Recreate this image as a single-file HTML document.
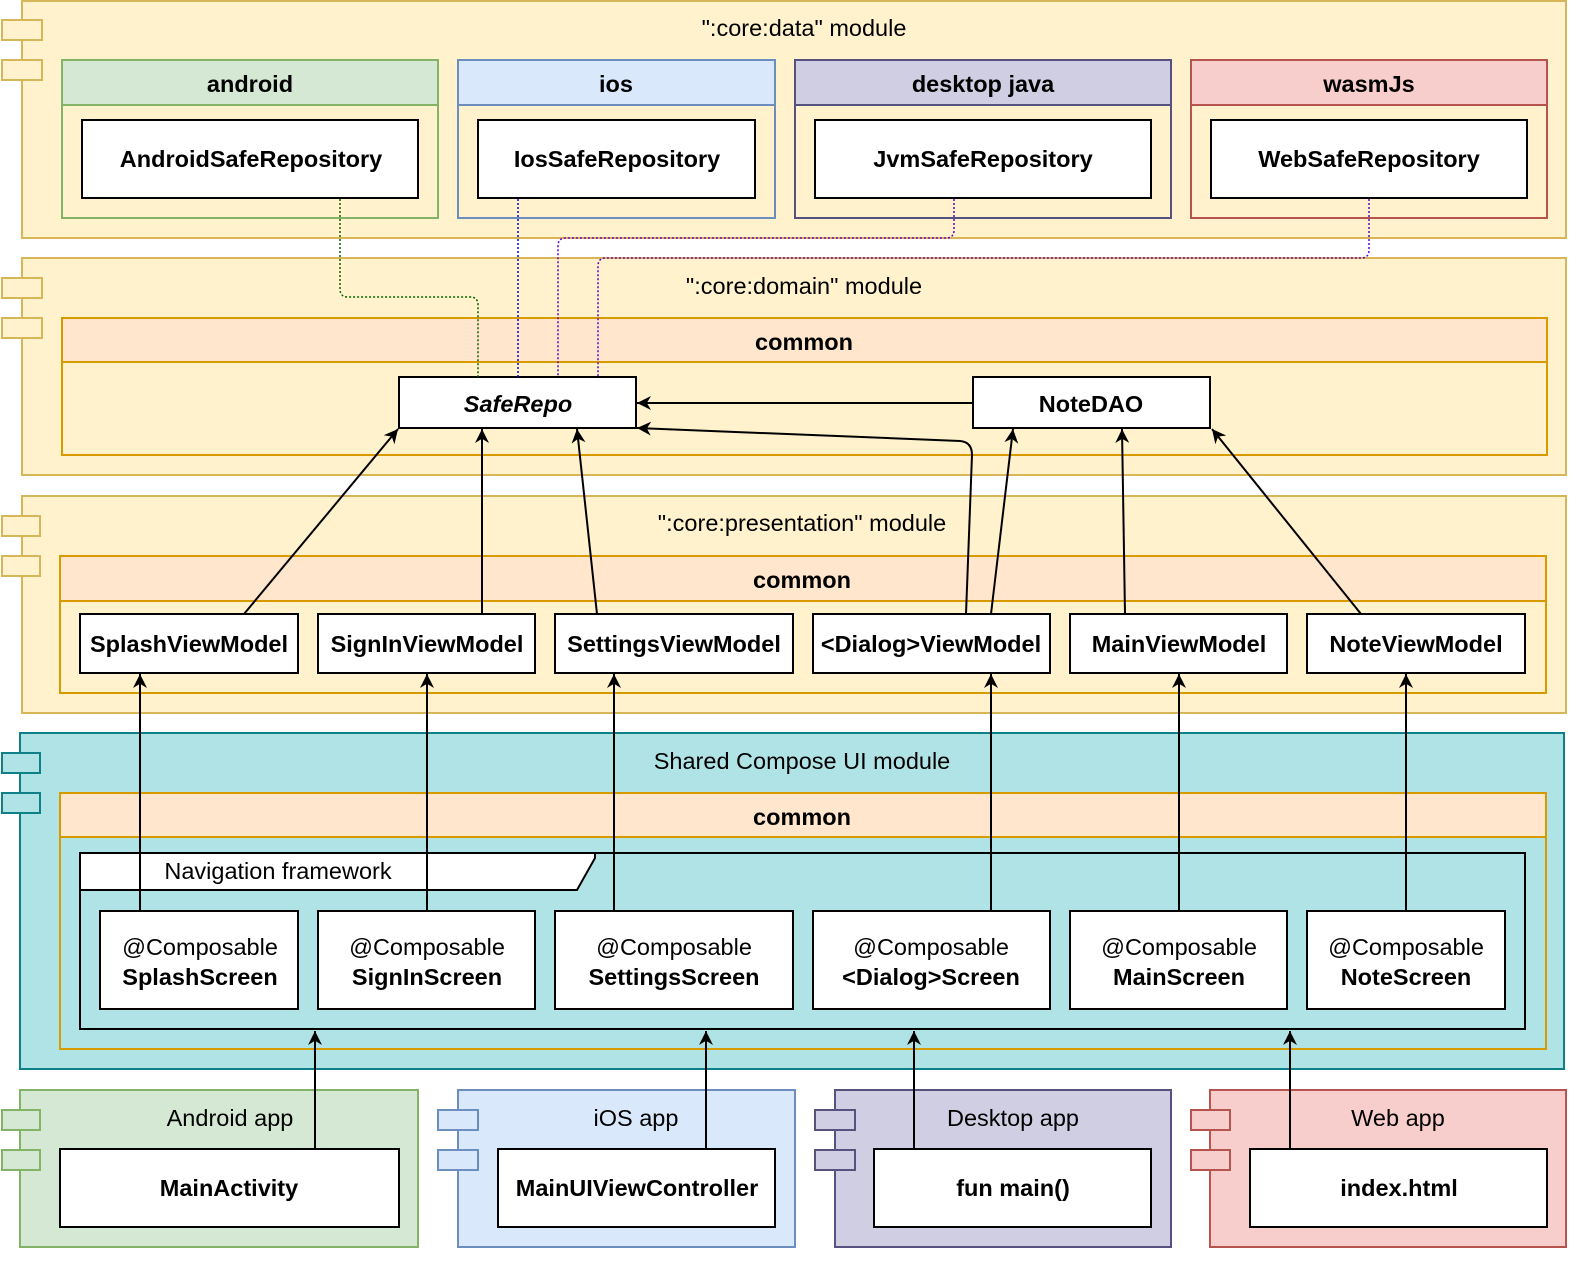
<!DOCTYPE html>
<html><head><meta charset="utf-8"><style>
html,body{margin:0;padding:0;background:#fff}
svg{display:block}
text{font-family:"Liberation Sans",Arial,sans-serif;font-size:23.5px;fill:#000}
.b{font-weight:bold}
</style></head><body>
<svg width="1584" height="1262" viewBox="0 0 1584 1262" xmlns="http://www.w3.org/2000/svg">
<defs>
<marker id="a2" viewBox="0 0 10 10" refX="10" refY="5" markerWidth="22" markerHeight="14" markerUnits="userSpaceOnUse" orient="auto">
<path d="M0,0 L10,5 L0,10 L3,5 z" fill="#000"/></marker>
</defs>
<g stroke-width="2">
<rect x="22" y="1" width="1544" height="237" fill="#fff2cc" stroke="#d6b656"/>
<rect x="2" y="20" width="40" height="20" fill="#fff2cc" stroke="#d6b656"/>
<rect x="2" y="60" width="40" height="20" fill="#fff2cc" stroke="#d6b656"/>
<rect x="62" y="60" width="376" height="158" fill="#fff2cc" stroke="#82b366"/>
<rect x="62" y="60" width="376" height="45" fill="#d5e8d4" stroke="#82b366"/>
<rect x="458" y="60" width="317" height="158" fill="#fff2cc" stroke="#6c8ebf"/>
<rect x="458" y="60" width="317" height="45" fill="#dae8fc" stroke="#6c8ebf"/>
<rect x="795" y="60" width="376" height="158" fill="#fff2cc" stroke="#56517e"/>
<rect x="795" y="60" width="376" height="45" fill="#d0cee2" stroke="#56517e"/>
<rect x="1191" y="60" width="356" height="158" fill="#fff2cc" stroke="#b85450"/>
<rect x="1191" y="60" width="356" height="45" fill="#f8cecc" stroke="#b85450"/>
<g fill="#fff" stroke="#000">
<rect x="82" y="120" width="336" height="78"/>
<rect x="478" y="120" width="277" height="78"/>
<rect x="815" y="120" width="336" height="78"/>
<rect x="1211" y="120" width="316" height="78"/>
</g>
<rect x="22" y="258" width="1544" height="217" fill="#fff2cc" stroke="#d6b656"/>
<rect x="2" y="278" width="40" height="20" fill="#fff2cc" stroke="#d6b656"/>
<rect x="2" y="318" width="40" height="20" fill="#fff2cc" stroke="#d6b656"/>
<rect x="62" y="318" width="1485" height="137" fill="#fff2cc" stroke="#d79b00"/>
<rect x="62" y="318" width="1485" height="44" fill="#ffe6cc" stroke="#d79b00"/>
<rect x="399" y="377" width="237" height="51" fill="#fff" stroke="#000"/>
<rect x="973" y="377" width="237" height="51" fill="#fff" stroke="#000"/>
<rect x="22" y="496" width="1544" height="217" fill="#fff2cc" stroke="#d6b656"/>
<rect x="2" y="516" width="38" height="20" fill="#fff2cc" stroke="#d6b656"/>
<rect x="2" y="556" width="38" height="20" fill="#fff2cc" stroke="#d6b656"/>
<rect x="60" y="556" width="1486" height="137" fill="#fff2cc" stroke="#d79b00"/>
<rect x="60" y="556" width="1486" height="45" fill="#ffe6cc" stroke="#d79b00"/>
<g fill="#fff" stroke="#000">
<rect x="80" y="614" width="218" height="59"/>
<rect x="318" y="614" width="217" height="59"/>
<rect x="555" y="614" width="238" height="59"/>
<rect x="813" y="614" width="237" height="59"/>
<rect x="1070" y="614" width="217" height="59"/>
<rect x="1307" y="614" width="218" height="59"/>
</g>
<rect x="20" y="733" width="1544" height="336" fill="#b0e3e6" stroke="#0e8088"/>
<rect x="2" y="753" width="38" height="20" fill="#b0e3e6" stroke="#0e8088"/>
<rect x="2" y="793" width="38" height="20" fill="#b0e3e6" stroke="#0e8088"/>
<rect x="60" y="793" width="1486" height="256" fill="#b0e3e6" stroke="#d79b00"/>
<rect x="60" y="793" width="1486" height="44" fill="#ffe6cc" stroke="#d79b00"/>
<rect x="80" y="853" width="1445" height="176" fill="#b0e3e6" stroke="#000"/>
<path d="M80,853 H595 V858 L577,890 H80 Z" fill="#fff" stroke="#000"/>
<g fill="#fff" stroke="#000">
<rect x="100" y="911" width="198" height="98"/>
<rect x="318" y="911" width="217" height="98"/>
<rect x="555" y="911" width="238" height="98"/>
<rect x="813" y="911" width="237" height="98"/>
<rect x="1070" y="911" width="217" height="98"/>
<rect x="1307" y="911" width="198" height="98"/>
</g>
<rect x="20" y="1090" width="398" height="157" fill="#d5e8d4" stroke="#82b366"/>
<rect x="2" y="1110" width="38" height="20" fill="#d5e8d4" stroke="#82b366"/>
<rect x="2" y="1150" width="38" height="20" fill="#d5e8d4" stroke="#82b366"/>
<rect x="458" y="1090" width="337" height="157" fill="#dae8fc" stroke="#6c8ebf"/>
<rect x="438" y="1110" width="40" height="20" fill="#dae8fc" stroke="#6c8ebf"/>
<rect x="438" y="1150" width="40" height="20" fill="#dae8fc" stroke="#6c8ebf"/>
<rect x="835" y="1090" width="336" height="157" fill="#d0cee2" stroke="#56517e"/>
<rect x="815" y="1110" width="40" height="20" fill="#d0cee2" stroke="#56517e"/>
<rect x="815" y="1150" width="40" height="20" fill="#d0cee2" stroke="#56517e"/>
<rect x="1210" y="1090" width="356" height="157" fill="#f8cecc" stroke="#b85450"/>
<rect x="1191" y="1110" width="39" height="20" fill="#f8cecc" stroke="#b85450"/>
<rect x="1191" y="1150" width="39" height="20" fill="#f8cecc" stroke="#b85450"/>
<g fill="#fff" stroke="#000">
<rect x="60" y="1149" width="339" height="78"/>
<rect x="498" y="1149" width="277" height="78"/>
<rect x="874" y="1149" width="277" height="78"/>
<rect x="1250" y="1149" width="297" height="78"/>
</g>
</g>
<g fill="none" stroke-width="1.5" stroke-dasharray="2,2">
<path d="M340,199 V289 Q340,297 348,297 H470 Q478,297 478,305 V377" stroke="#006600"/>
<path d="M518,199 V377" stroke="#0000ee"/>
<path d="M954,199 V230 Q954,238 946,238 H566 Q558,238 558,246 V377" stroke="#6600cc"/>
<path d="M1369,199 V250 Q1369,258 1361,258 H606 Q598,258 598,266 V377" stroke="#6600cc"/>
</g>
<g fill="none" stroke="#000" stroke-width="2" marker-end="url(#a2)">
<path d="M315,1149 V1031"/>
<path d="M706,1149 V1031"/>
<path d="M914,1149 V1031"/>
<path d="M1290,1149 V1031"/>
<path d="M140,911 V674"/>
<path d="M427,911 V674"/>
<path d="M614,911 V674"/>
<path d="M991,911 V674"/>
<path d="M1179,911 V674"/>
<path d="M1406,911 V674"/>
<path d="M244,614 L398,429"/>
<path d="M482,614 V429"/>
<path d="M597,614 L577,429"/>
<path d="M966,614 L972,455 Q972,442 960,441 L637,428"/>
<path d="M991,614 L1013,429"/>
<path d="M1125,614 L1122,429"/>
<path d="M1361,614 L1212,429"/>
<path d="M973,403 H637"/>
</g>
<g text-anchor="middle">
<text x="804" y="36">":core:data" module</text>
<text x="250" y="92" class="b">android</text>
<text x="616" y="92" class="b">ios</text>
<text x="983" y="92" class="b">desktop java</text>
<text x="1369" y="92" class="b">wasmJs</text>
<text x="251" y="167" class="b">AndroidSafeRepository</text>
<text x="617" y="167" class="b">IosSafeRepository</text>
<text x="983" y="167" class="b">JvmSafeRepository</text>
<text x="1369" y="167" class="b">WebSafeRepository</text>
<text x="804" y="294">":core:domain" module</text>
<text x="804" y="350" class="b">common</text>
<text x="518" y="412" class="b" font-style="italic">SafeRepo</text>
<text x="1091" y="412" class="b">NoteDAO</text>
<text x="802" y="531">":core:presentation" module</text>
<text x="802" y="588" class="b">common</text>
<text x="189" y="652" class="b">SplashViewModel</text>
<text x="427" y="652" class="b">SignInViewModel</text>
<text x="674" y="652" class="b">SettingsViewModel</text>
<text x="931" y="652" class="b">&lt;Dialog&gt;ViewModel</text>
<text x="1179" y="652" class="b">MainViewModel</text>
<text x="1416" y="652" class="b">NoteViewModel</text>
<text x="802" y="769">Shared Compose UI module</text>
<text x="802" y="825" class="b">common</text>
<text x="278" y="879">Navigation framework</text>
<text x="200" y="955">@Composable</text><text x="200" y="985" class="b">SplashScreen</text>
<text x="427" y="955">@Composable</text><text x="427" y="985" class="b">SignInScreen</text>
<text x="674" y="955">@Composable</text><text x="674" y="985" class="b">SettingsScreen</text>
<text x="931" y="955">@Composable</text><text x="931" y="985" class="b">&lt;Dialog&gt;Screen</text>
<text x="1179" y="955">@Composable</text><text x="1179" y="985" class="b">MainScreen</text>
<text x="1406" y="955">@Composable</text><text x="1406" y="985" class="b">NoteScreen</text>
<text x="230" y="1126">Android app</text>
<text x="636" y="1126">iOS app</text>
<text x="1013" y="1126">Desktop app</text>
<text x="1398" y="1126">Web app</text>
<text x="229" y="1196" class="b">MainActivity</text>
<text x="637" y="1196" class="b">MainUIViewController</text>
<text x="1013" y="1196" class="b">fun main()</text>
<text x="1399" y="1196" class="b">index.html</text>
</g>
</svg>
</body></html>
